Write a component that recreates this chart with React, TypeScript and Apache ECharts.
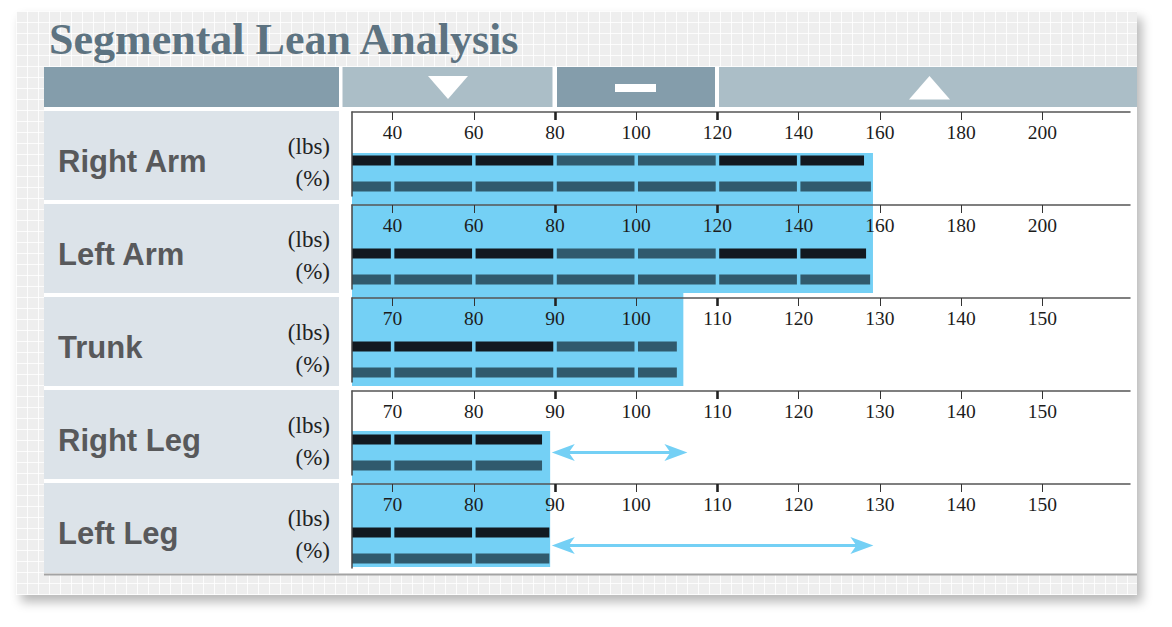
import React, { useEffect, useRef } from 'react';
import * as echarts from 'echarts';

// ---------- data ----------
const segmentNames = ['Right Arm', 'Left Arm', 'Trunk', 'Right Leg', 'Left Leg'];
const unitLabels = ['(lbs)', '(%)'];
const lbsValues = [156.1, 156.6, 105.0, 88.4, 89.3];
const pctValues = [157.8, 157.6, 105.0, 88.4, 89.3];
const highlightEnds = [158.3, 158.3, 105.8, 89.4, 89.4];
const arrowStarts: (number | null)[] = [null, null, null, 89.6, 89.6];
const arrowEnds: (number | null)[] = [null, null, null, 106.3, 129.2];
const armTicks = [40, 60, 80, 100, 120, 140, 160, 180, 200];
const trunkLegTicks = [70, 80, 90, 100, 110, 120, 130, 140, 150];
const armRange = [80, 120];
const trunkLegRange = [90, 110];
const armDomain = [30, 221.6];
const trunkLegDomain = [65, 160.8];

// ---------- layout / style ----------
const LEFT = 352;
const AXIS_W = 778;
const ROW_TOP0 = 112;
const ROW_STEP = 93;
const GRID_H = 84;
const LBS_Y = 48.5;
const PCT_Y = 74.5;
const BAR_H = 10;
const ARROW_Y = 61.5;
const GAP = 3.5;
const HIGHLIGHT_Y = [
  [41, 92],
  [-1, 88],
  [-8, 88],
  [40, 93],
  [0, 83],
];
const BLUE = '#74d0f5';
const BLACK = '#121920';
const TEAL = '#305a6d';

const rowTop = (i: number) => ROW_TOP0 + i * ROW_STEP;
const isArm = (i: number) => i < 2;

export default function App() {
  const ref = useRef<HTMLDivElement>(null);

  useEffect(() => {
    if (!ref.current) return;
    const chart = echarts.init(ref.current, undefined, { renderer: 'svg' });

    const grids: any[] = [];
    const xAxes: any[] = [];
    const yAxes: any[] = [];
    const series: any[] = [];

    segmentNames.forEach((_, i) => {
      const ticks = isArm(i) ? armTicks : trunkLegTicks;
      const range = isArm(i) ? armRange : trunkLegRange;
      const dom = isArm(i) ? armDomain : trunkLegDomain;
      grids.push({ left: LEFT, top: rowTop(i), width: AXIS_W, height: GRID_H });
      xAxes.push({
        type: 'value',
        gridIndex: i,
        position: 'top',
        min: dom[0],
        max: dom[1],
        z: 5,
        axisLine: { show: true, onZero: false, lineStyle: { color: '#555', width: 1.5 } },
        axisTick: {
          show: true,
          inside: true,
          length: 8,
          customValues: ticks,
          lineStyle: { color: '#333', width: 1 },
        },
        axisLabel: {
          show: true,
          inside: true,
          customValues: ticks,
          margin: 20,
          verticalAlign: 'middle',
          color: '#1c1c1c',
          fontFamily: 'Liberation Serif',
          fontSize: 19.5,
        },
        splitLine: { show: false },
      });
      xAxes.push({
        type: 'value',
        gridIndex: i,
        position: 'top',
        min: dom[0],
        max: dom[1],
        z: 6,
        axisLine: { show: false, onZero: false },
        axisTick: {
          show: true,
          inside: true,
          length: 8,
          customValues: range,
          lineStyle: { color: '#222', width: 2.6 },
        },
        axisLabel: { show: false },
        splitLine: { show: false },
      });
      yAxes.push({
        type: 'value',
        gridIndex: i,
        min: 0,
        max: GRID_H,
        inverse: true,
        z: 5,
        axisLine: { show: true, onZero: false, lineStyle: { color: '#444', width: 1.5 } },
        axisTick: { show: false },
        axisLabel: { show: false },
        splitLine: { show: false },
      });

      series.push({
        type: 'custom',
        xAxisIndex: i * 2,
        yAxisIndex: i,
        z: 2,
        clip: false,
        silent: true,
        data: [[lbsValues[i], pctValues[i]]],
        renderItem: (params: any, api: any) => {
          const pt = (x: number, y: number) => api.coord([x, y]);
          const children: any[] = [];
          const x0 = dom[0];
          // highlight
          const [ht, hb] = HIGHLIGHT_Y[i];
          const h1 = pt(x0, ht);
          const h2 = pt(highlightEnds[i], hb);
          children.push({
            type: 'rect',
            shape: { x: h1[0], y: h1[1], width: h2[0] - h1[0], height: h2[1] - h1[1] },
            style: { fill: BLUE },
          });
          const drawBar = (v: number, yc: number, colorOf: (a: number, b: number) => string) => {
            const bounds = [x0, ...ticks.filter((t) => t > x0 && t < v), v];
            for (let k = 0; k < bounds.length - 1; k++) {
              const a = bounds[k];
              const b = bounds[k + 1];
              const pa = pt(a, yc - BAR_H / 2);
              const pb = pt(b, yc + BAR_H / 2);
              const xs = pa[0] + (k > 0 ? GAP / 2 : 0);
              const xe = pb[0] - (k < bounds.length - 2 ? GAP / 2 : 0);
              children.push({
                type: 'rect',
                shape: { x: xs, y: pa[1], width: xe - xs, height: pb[1] - pa[1] },
                style: { fill: colorOf(a, b) },
              });
            }
          };
          drawBar(api.value(0), LBS_Y, (a, b) => {
            const m = (a + b) / 2;
            return m > range[0] && m < range[1] ? TEAL : BLACK;
          });
          drawBar(api.value(1), PCT_Y, () => TEAL);
          // arrow
          const as = arrowStarts[i];
          const ae = arrowEnds[i];
          if (as != null && ae != null) {
            const pa = pt(as, ARROW_Y);
            const pb = pt(ae, ARROW_Y);
            const y = pa[1];
            const L = 23;
            const W = 8.5;
            const N = 17;
            children.push({
              type: 'rect',
              shape: { x: pa[0] + N - 1, y: y - 1.6, width: pb[0] - pa[0] - 2 * N + 2, height: 3.2 },
              style: { fill: BLUE },
            });
            children.push({
              type: 'polygon',
              shape: {
                points: [
                  [pa[0], y],
                  [pa[0] + L, y - W],
                  [pa[0] + N, y],
                  [pa[0] + L, y + W],
                ],
              },
              style: { fill: BLUE },
            });
            children.push({
              type: 'polygon',
              shape: {
                points: [
                  [pb[0], y],
                  [pb[0] - L, y - W],
                  [pb[0] - N, y],
                  [pb[0] - L, y + W],
                ],
              },
              style: { fill: BLUE },
            });
          }
          return { type: 'group', children };
        },
      });
    });

    const graphics: any[] = [
      { type: 'rect', z: 0, shape: { x: 44, y: 67, width: 1093, height: 507 }, style: { fill: '#ffffff' } },
      // header
      { type: 'rect', z: 1, shape: { x: 44, y: 67, width: 295, height: 40 }, style: { fill: '#849dab' } },
      { type: 'rect', z: 1, shape: { x: 342.5, y: 67, width: 210, height: 40 }, style: { fill: '#abbec7' } },
      { type: 'rect', z: 1, shape: { x: 557, y: 67, width: 158, height: 40 }, style: { fill: '#849dab' } },
      { type: 'rect', z: 1, shape: { x: 719, y: 67, width: 418, height: 40 }, style: { fill: '#abbec7' } },
      { type: 'polygon', z: 1, shape: { points: [[428, 76], [468, 76], [448, 99]] }, style: { fill: '#ffffff' } },
      { type: 'rect', z: 1, shape: { x: 615, y: 84, width: 41, height: 8 }, style: { fill: '#ffffff' } },
      { type: 'polygon', z: 1, shape: { points: [[909, 99.5], [950, 99.5], [929.5, 76]] }, style: { fill: '#ffffff' } },
      // bottom line
      { type: 'rect', z: 1, shape: { x: 44, y: 573.5, width: 1093, height: 2 }, style: { fill: '#a3a3a3' } },
      // title
      {
        type: 'text',
        z: 1,
        x: 49,
        y: 39,
        style: {
          text: 'Segmental Lean Analysis',
          font: 'bold 44px "Liberation Serif"',
          fill: '#5d7381',
          verticalAlign: 'middle',
          align: 'left',
        },
      },
    ];

    segmentNames.forEach((name, i) => {
      const t = rowTop(i);
      graphics.push({
        type: 'rect',
        z: 1,
        shape: { x: 44, y: t - 1, width: 295, height: i === 4 ? 90 : 89 },
        style: { fill: '#dce3e9' },
      });
      graphics.push({
        type: 'text',
        z: 2,
        x: 58,
        y: t + 49,
        style: {
          text: name,
          font: 'bold 31px "Liberation Sans"',
          fill: '#58595b',
          verticalAlign: 'middle',
          align: 'left',
        },
      });
      graphics.push({
        type: 'text',
        z: 2,
        x: 330,
        y: t + 34,
        style: {
          text: unitLabels[0],
          font: '23px "Liberation Serif"',
          fill: '#222',
          verticalAlign: 'middle',
          align: 'right',
        },
      });
      graphics.push({
        type: 'text',
        z: 2,
        x: 330,
        y: t + 66,
        style: {
          text: unitLabels[1],
          font: '23px "Liberation Serif"',
          fill: '#222',
          verticalAlign: 'middle',
          align: 'right',
        },
      });
    });

    chart.setOption({
      animation: false,
      backgroundColor: 'transparent',
      graphic: { elements: graphics },
      grid: grids,
      xAxis: xAxes,
      yAxis: yAxes,
      series,
    });

    return () => chart.dispose();
  }, []);

  return (
    <div style={{ position: 'fixed', left: 0, top: 0, width: 1172, height: 627, background: '#ffffff', overflow: 'hidden' }}>
      <div
        style={{
          position: 'absolute',
          left: 16,
          top: 11,
          width: 1121,
          height: 584,
          backgroundColor: '#eeeeee',
          backgroundImage:
            'linear-gradient(rgba(255,255,255,0.85) 1px, transparent 1px), linear-gradient(90deg, rgba(255,255,255,0.85) 1px, transparent 1px)',
          backgroundSize: '11px 11px',
          boxShadow: '5px 7px 10px rgba(0,0,0,0.28)',
        }}
      />
      <div ref={ref} style={{ position: 'absolute', left: 0, top: 0, width: 1172, height: 627 }} />
    </div>
  );
}
